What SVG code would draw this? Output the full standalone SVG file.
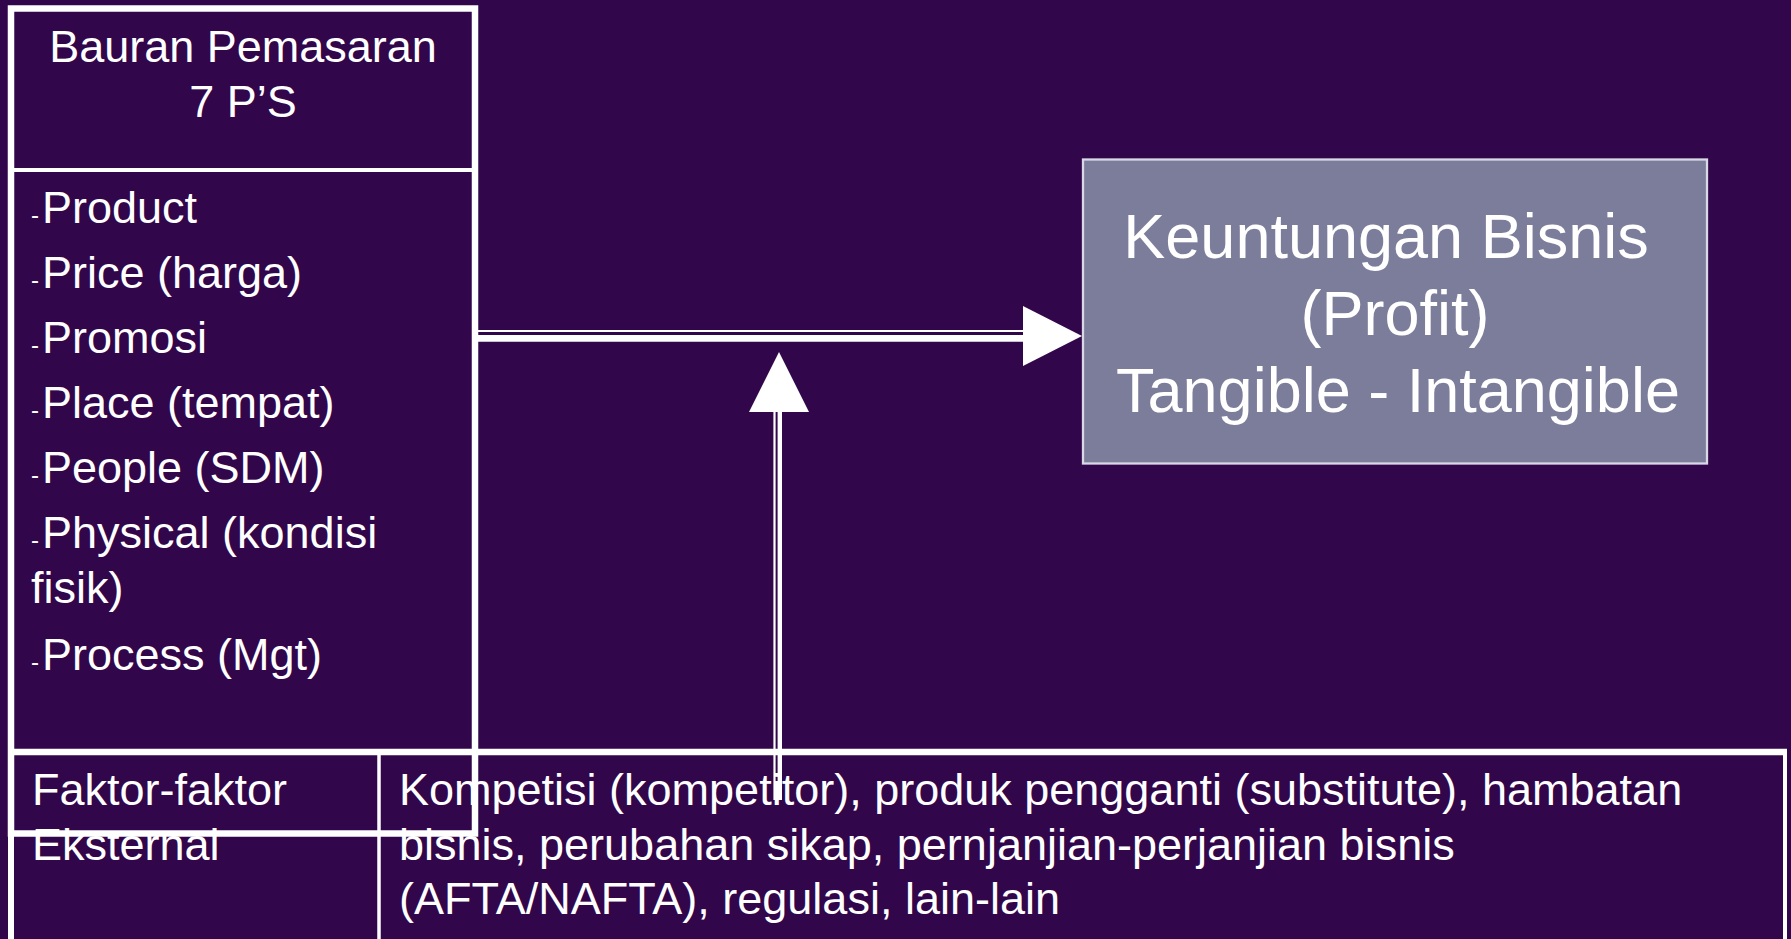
<svg xmlns="http://www.w3.org/2000/svg" width="1791" height="939" viewBox="0 0 1791 939">
<style>
.t{font-family:"Liberation Sans",Arial,sans-serif;fill:#ffffff;font-size:45px}
.big{font-family:"Liberation Sans",Arial,sans-serif;fill:#ffffff;font-size:63px;text-anchor:middle}
.d{font-size:24px}
.ln{stroke:#ffffff;fill:none}
</style>
<rect x="0" y="0" width="1791" height="939" fill="#32064a"/>
<g id="node-external">
<text class="t" x="32" y="805">Faktor-faktor</text>
<text class="t" x="32" y="860">Eksternal</text>
<text class="t" x="399" y="805">Kompetisi (kompetitor), produk pengganti (substitute), hambatan</text>
<text class="t" x="399" y="860">bisnis, perubahan sikap, pernjanjian-perjanjian bisnis</text>
<text class="t" x="399" y="914">(AFTA/NAFTA), regulasi, lain-lain</text>
<line class="ln" x1="8" y1="752" x2="1787" y2="752" stroke-width="6.5"/>
<line class="ln" x1="11" y1="752" x2="11" y2="939" stroke-width="6"/>
<line class="ln" x1="1785" y1="749" x2="1785" y2="939" stroke-width="4"/>
<line class="ln" x1="379" y1="752" x2="379" y2="939" stroke-width="3.5"/>
</g>
<g id="node-mix">
<text class="t" x="243" y="62" text-anchor="middle">Bauran Pemasaran</text>
<text class="t" x="243" y="117" text-anchor="middle">7 P’S</text>
<text class="t" y="223"><tspan class="d" x="31">-</tspan><tspan x="42">Product</tspan></text>
<text class="t" y="288"><tspan class="d" x="31">-</tspan><tspan x="42">Price (harga)</tspan></text>
<text class="t" y="353"><tspan class="d" x="31">-</tspan><tspan x="42">Promosi</tspan></text>
<text class="t" y="418"><tspan class="d" x="31">-</tspan><tspan x="42">Place (tempat)</tspan></text>
<text class="t" y="483"><tspan class="d" x="31">-</tspan><tspan x="42">People (SDM)</tspan></text>
<text class="t" y="548"><tspan class="d" x="31">-</tspan><tspan x="42">Physical (kondisi</tspan></text>
<text class="t" x="31" y="603">fisik)</text>
<text class="t" y="670"><tspan class="d" x="31">-</tspan><tspan x="42">Process (Mgt)</tspan></text>
<rect class="ln" x="11" y="8.5" width="464" height="825" stroke-width="6.5"/>
<line class="ln" x1="14" y1="170" x2="472" y2="170" stroke-width="4"/>
</g>
<g id="node-profit">
<rect x="1083" y="159.5" width="624" height="304" fill="#7b7d9b" stroke="#d8d8e6" stroke-width="2.3"/>
<text class="big" x="1386" y="258">Keuntungan Bisnis</text>
<text class="big" x="1395" y="335">(Profit)</text>
<text class="big" x="1398" y="412">Tangible - Intangible</text>
</g>
<g id="connectors">
<line class="ln" x1="478" y1="331" x2="1024" y2="331" stroke-width="1.8"/>
<line class="ln" x1="478" y1="338.4" x2="1024" y2="338.4" stroke-width="6.8"/>
<polygon points="1023,306 1082,336 1023,366" fill="#ffffff"/>
<line class="ln" x1="774.5" y1="410" x2="774.5" y2="800" stroke-width="2.2"/>
<line class="ln" x1="779.8" y1="410" x2="779.8" y2="800" stroke-width="4.4"/>
<polygon points="779,352 809,412 749,412" fill="#ffffff"/>
</g>
</svg>
